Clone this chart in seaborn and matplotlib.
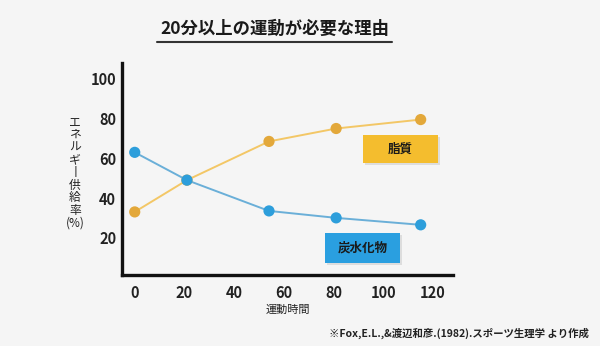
import matplotlib
matplotlib.use("Agg")
import matplotlib.pyplot as plt
import matplotlib.patches as mpatches
import seaborn as sns
import pandas as pd

# data
time_min = [0, 21, 54, 81, 115]
fat = [33, 49, 68.5, 75, 79.5]
carb = [63, 49, 33.5, 30, 26.5]
x_ticks = [0, 20, 40, 60, 80, 100, 120]
y_ticks = [20, 40, 60, 80, 100]
ylabel_chars = ["エ", "ネ", "ル", "ギ", "丨", "供", "給", "率", "(%)"]

sns.set_theme(style="white")
plt.rcParams['font.family'] = ['Noto Sans CJK JP', 'DejaVu Sans']

bg = "#F5F5F5"
fig = plt.figure(figsize=(6, 3.46), dpi=100, facecolor=bg)
ax = fig.add_axes([0.203, 0.205, 0.552, 0.613])
ax.set_facecolor(bg)

df = pd.DataFrame({"t": time_min + time_min,
                   "v": fat + carb,
                   "s": ["脂質"] * len(fat) + ["炭水化物"] * len(carb)})

line_cols = {"脂質": "#F3C766", "炭水化物": "#6AAFD8"}
dot_cols = {"脂質": "#E3A83A", "炭水化物": "#2D9EDB"}
sns.lineplot(data=df, x="t", y="v", hue="s", palette=line_cols, ax=ax,
             legend=False, linewidth=1.4)
sns.scatterplot(data=df, x="t", y="v", hue="s", palette=dot_cols, ax=ax,
                legend=False, s=65, edgecolor="none", zorder=5)

ax.set_xlim(-5.2, 128)
ax.set_ylim(1.2, 108)
ax.set_xticks(x_ticks)
ax.set_yticks(y_ticks)
ax.tick_params(length=0, labelsize=10.5)
ax.tick_params(axis="x", pad=7)
ax.tick_params(axis="y", pad=4)
for lab in ax.get_xticklabels() + ax.get_yticklabels():
    lab.set_fontweight("bold")
    lab.set_color("#222222")
for sp in ["top", "right"]:
    ax.spines[sp].set_visible(False)
for sp in ["left", "bottom"]:
    ax.spines[sp].set_color("#111111")
    ax.spines[sp].set_linewidth(2.4)

ax.set_xlabel("運動時間", fontsize=8, labelpad=3, color="#222222")
ax.set_ylabel("")

# vertical y label, one character per row
y_top, step = 122, 12.6
for i, ch in enumerate(ylabel_chars):
    fig.text(75 / 600, 1 - (y_top + i * step) / 346, ch, ha="center", va="center",
             fontsize=8.5, color="#222222")


def label_box(x0, x1, y0, y1, text, color):
    shadow = mpatches.Rectangle((x0 + 0.006, y0 - 0.01), x1 - x0, y1 - y0,
                                transform=ax.transAxes, facecolor="#dddddd",
                                edgecolor="none", zorder=3)
    rect = mpatches.Rectangle((x0, y0), x1 - x0, y1 - y0, transform=ax.transAxes,
                              facecolor=color, edgecolor="none", zorder=4)
    ax.add_patch(shadow)
    ax.add_patch(rect)
    ax.text((x0 + x1) / 2, (y0 + y1) / 2, text, transform=ax.transAxes,
            ha="center", va="center", fontsize=9, fontweight="bold",
            color="#1a1a1a", zorder=6)


label_box(0.728, 0.955, 0.528, 0.660, "脂質", "#F4BD2E")
label_box(0.613, 0.840, 0.057, 0.198, "炭水化物", "#2A9FE0")

# title
fig.text(275 / 600, 1 - 29 / 346, "20分以上の運動が必要な理由", ha="center", va="center",
         fontsize=12.5, fontweight="bold", color="#1a1a1a")
fig.add_artist(plt.Line2D([157 / 600, 392 / 600], [1 - 42 / 346, 1 - 42 / 346],
                          color="#333333", linewidth=1.5))

# footnote
fig.text(589 / 600, 1 - 333 / 346, "※Fox,E.L.,&渡辺和彦.(1982).スポーツ生理学 より作成",
         ha="right", va="center", fontsize=7.5, fontweight="bold", color="#222222")

fig.savefig("out.png", dpi=100, facecolor=bg)
